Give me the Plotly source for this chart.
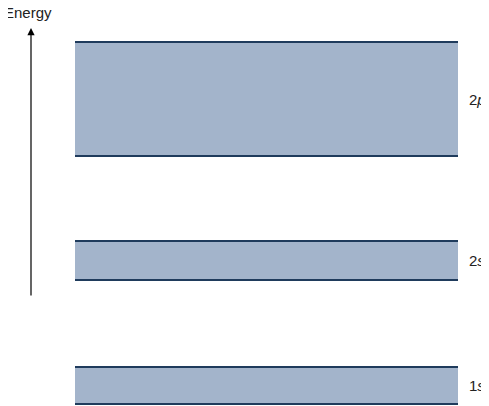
import plotly.graph_objects as go

bands = ["2<i>p</i>", "2<i>s</i>", "1<i>s</i>"]
band_top = [42, 241, 367]
band_bottom = [156, 280, 404]
band_left = 75
band_right = 458

fig = go.Figure()
for name, t, b in zip(bands, band_top, band_bottom):
    fig.add_trace(go.Scatter(x=[band_left, band_right, band_right, band_left, band_left],
                             y=[t, t, b, b, t], fill="toself", fillcolor="#a3b4cb",
                             line=dict(width=0), mode="lines", hoverinfo="skip"))
    for yy in (t, b):
        fig.add_trace(go.Scatter(x=[band_left, band_right], y=[yy, yy], mode="lines",
                                 line=dict(color="#1f3b5c", width=2), hoverinfo="skip"))
    fig.add_annotation(x=467, y=(t + b) / 2, text=name, showarrow=False, xanchor="left",
                       font=dict(size=15, color="#222", family="Liberation Sans"))

fig.add_annotation(x=31, y=28, ax=31, ay=297, xref="x", yref="y", axref="x", ayref="y",
                   showarrow=True, arrowhead=2, arrowsize=1.2, arrowwidth=1.2, arrowcolor="black", text="")
fig.add_annotation(x=28, y=12, text="Energy", showarrow=False,
                   font=dict(size=15, color="#222", family="Liberation Sans"))

fig.update_layout(width=489, height=406, margin=dict(l=0, r=0, t=0, b=0),
                  plot_bgcolor="white", paper_bgcolor="white", showlegend=False,
                  xaxis=dict(range=[8, 497], visible=False, fixedrange=True),
                  yaxis=dict(range=[414, 8], visible=False, fixedrange=True))
fig.write_html("out.html")
